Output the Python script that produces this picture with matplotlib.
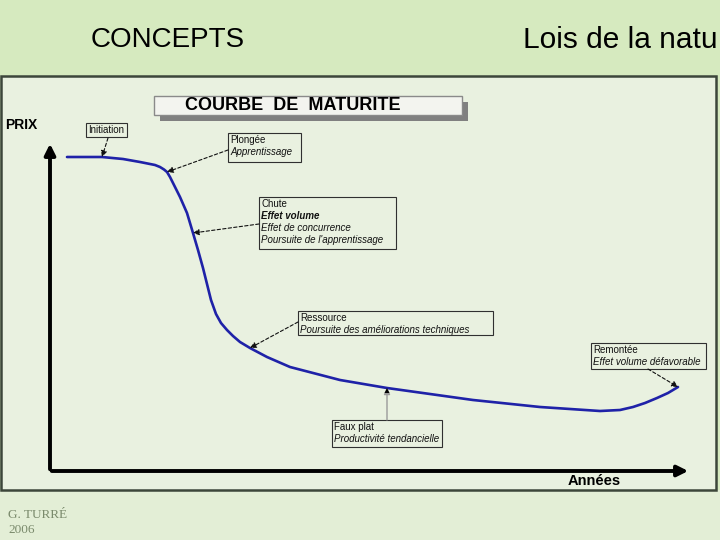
import numpy as np
import matplotlib as mpl
mpl.use("Agg")
import matplotlib.pyplot as plt
from matplotlib.patches import Rectangle

# curve (arbitrary units: years, price)
annees = [17, 52, 73, 90, 105, 110, 114, 117, 120, 124, 130, 137, 143, 148, 153, 157,
          161, 166, 171, 177, 183, 190, 200, 217, 240, 290, 337, 423, 490, 550, 570,
          583, 595, 607, 618, 628]
prix = [314, 314, 312, 309, 306, 304, 301.5, 299, 294, 286, 274, 258, 238, 221, 203, 187,
        171, 157, 148, 141, 135, 129, 123, 114, 104, 91, 83, 71, 64, 60, 61,
        64, 68, 73, 78, 84]

# annotation labels: (curve index, box, lines)
phases = [
    (1, (86, 123, 127, 137), ["Initiation"]),
    (7, (228, 133, 301, 162), ["Plongée", "Apprentissage"]),
    (12, (259, 197, 396, 249), ["Chute", "Effet volume", "Effet de concurrence",
                                "Poursuite de l'apprentissage"]),
    (22, (298, 311, 493, 335), ["Ressource", "Poursuite des améliorations techniques"]),
    (26, (332, 420, 442, 447), ["Faux plat", "Productivité tendancielle"]),
    (35, (591, 343, 706, 369), ["Remontée", "Effet volume défavorable"]),
]
arrow_from = [(108, 138), (228, 150), (259, 224), (298, 322), (387, 420), (648, 369)]

HEADER = "#d6eabf"
PANEL = "#e9f1e0"
BORDER = "#3c463a"
BLUE = "#1f22a8"
SANS = ["Liberation Sans", "DejaVu Sans"]
SERIF = ["Liberation Serif", "DejaVu Serif"]

fig = plt.figure(figsize=(7.2, 5.4), dpi=100)
fig.patch.set_facecolor(HEADER)

# pixel-space layer for the slide decorations
bg = fig.add_axes([0, 0, 1, 1])
bg.set_xlim(0, 720)
bg.set_ylim(540, 0)
bg.axis("off")

bg.add_patch(Rectangle((0, 490), 720, 50, facecolor="#e3eed6", edgecolor="none"))
bg.add_patch(Rectangle((1, 76), 715, 414, facecolor=PANEL, edgecolor=BORDER, lw=1.8))

bg.text(168, 40, "CONCEPTS", fontsize=20, family=SANS, ha="center", va="center")
# the slide title is cut by the page edge in the original
bg.text(718, 40, "Lois de la natu", fontsize=21.5, family=SANS, ha="right", va="center")

# title box with shadow
bg.add_patch(Rectangle((160, 102), 308, 19, facecolor="#808080", edgecolor="none"))
bg.add_patch(Rectangle((154, 96), 308, 19, facecolor="#f3f4ef", edgecolor="#8a8a8a", lw=1))
bg.text(293, 106, "COURBE  DE  MATURITE", fontsize=13, fontweight="bold",
        family=SANS, ha="center", va="center")

bg.text(5, 125, "PRIX", fontsize=10, fontweight="bold", family=SANS, ha="left", va="center")
bg.text(594, 481, "Années", fontsize=10.5, fontweight="bold", family=SANS,
        ha="center", va="center")

bg.text(8, 515, "G. TURRÉ", fontsize=9.5, family=SERIF, color="#7a8a6c",
        ha="left", va="center")
bg.text(8, 530, "2006", fontsize=9.5, family=SERIF, color="#7a8a6c",
        ha="left", va="center")

# axis arrows
bg.annotate("", xy=(50, 141), xytext=(50, 472),
            arrowprops=dict(arrowstyle="-|>", lw=2.8, color="black", mutation_scale=16))
bg.annotate("", xy=(691, 471), xytext=(49, 471),
            arrowprops=dict(arrowstyle="-|>", lw=2.8, color="black", mutation_scale=16))

# chart axes in data units
ax = fig.add_axes([50 / 720, 1 - 471 / 540, 640 / 720, 331 / 540])
ax.set_xlim(0, 640)
ax.set_ylim(0, 331)
ax.axis("off")
ax.patch.set_alpha(0)

ax.plot(annees, prix, color=BLUE, lw=1.9, solid_capstyle="round", solid_joinstyle="round")

for (idx, (x0, y0, x1, y1), lines), (fx, fy) in zip(phases, arrow_from):
    bg.add_patch(Rectangle((x0, y0), x1 - x0, y1 - y0, facecolor="none",
                           edgecolor="#303030", lw=0.8))
    for k, txt in enumerate(lines):
        style = "normal" if k == 0 else "italic"
        weight = "bold" if txt == "Effet volume" else "normal"
        bg.text(x0 + 2, y0 + 7 + 12 * k, txt, fontsize=7, style=style, weight=weight,
                family=SANS, ha="left", va="center", color="#111111")
    faux = lines[0] == "Faux plat"
    ax.annotate("", xy=(annees[idx], prix[idx]), xycoords="data",
                xytext=(fx, fy), textcoords=bg.transData,
                arrowprops=dict(arrowstyle="-|>", lw=1.0 if faux else 0.8,
                                linestyle="-" if faux else (0, (3, 2)),
                                color="#9a9a9a" if faux else "#111111",
                                mutation_scale=9, shrinkA=0, shrinkB=0))
    if faux:
        # head of the gray arrow is black in the picture
        ax.annotate("", xy=(annees[idx], prix[idx]), xycoords="data",
                    xytext=(fx, fy - 20), textcoords=bg.transData,
                    arrowprops=dict(arrowstyle="-|>", lw=0, color="black",
                                    mutation_scale=9, shrinkA=0, shrinkB=0))

fig.savefig("out.png", dpi=100, facecolor=fig.get_facecolor())
